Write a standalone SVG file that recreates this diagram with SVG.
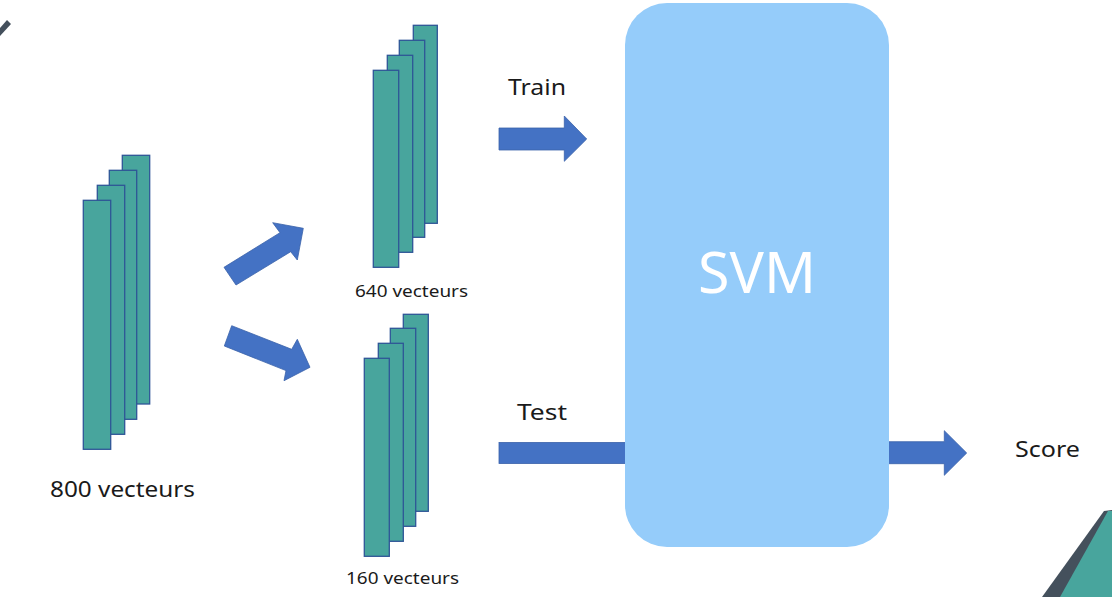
<svg xmlns="http://www.w3.org/2000/svg" width="1112" height="597" viewBox="0 0 1112 597">
<style>
.bar{fill:#48A59D;stroke:#2F5597;stroke-width:1.3}
.arr{fill:#4472C4;stroke:#3A62AA;stroke-width:0.8}
.t{font-family:"Noto Sans","DejaVu Sans",sans-serif;fill:#1a1a1a}
</style>
<rect width="1112" height="597" fill="#ffffff"/>
<g id="decor">
<polygon points="0,28 7,20 11,24 0,36" fill="#44505C"/>
<polygon points="1104,511 1112,510 1112,597 1042,597" fill="#44505C"/>
<polygon points="1108,511 1112,511 1112,597 1060,597" fill="#48A59D"/>
</g>
<g id="stack800">
<rect class="bar" x="122.3" y="155.3" width="27.4" height="248.7"/>
<rect class="bar" x="109.3" y="170.3" width="27.4" height="249"/>
<rect class="bar" x="97.3" y="185.3" width="27.4" height="249"/>
<rect class="bar" x="83.3" y="200.3" width="27.4" height="249"/>
<text class="t" x="50" y="497" font-size="22" textLength="145" lengthAdjust="spacingAndGlyphs">800 vecteurs</text>
</g>
<g id="stack640">
<rect class="bar" x="413.3" y="25.3" width="24" height="198"/>
<rect class="bar" x="399.3" y="40.3" width="25.4" height="197"/>
<rect class="bar" x="387.3" y="55.3" width="25.4" height="197"/>
<rect class="bar" x="373.3" y="70.3" width="25.4" height="197"/>
<text class="t" x="355" y="297" font-size="16.5" textLength="113" lengthAdjust="spacingAndGlyphs">640 vecteurs</text>
</g>
<g id="stack160">
<rect class="bar" x="403.3" y="314.3" width="25" height="197"/>
<rect class="bar" x="390.3" y="328.3" width="25.4" height="198"/>
<rect class="bar" x="378.3" y="343.3" width="25" height="198"/>
<rect class="bar" x="364.3" y="358.3" width="25" height="198"/>
<text class="t" x="346" y="584" font-size="16.5" textLength="113" lengthAdjust="spacingAndGlyphs">160 vecteurs</text>
</g>
<g id="connectors">
<polygon class="arr" points="224,267.3 280,232.7 272.7,222.7 303.3,228.3 297.3,260 290.7,251.7 236,285"/>
<polygon class="arr" points="231.7,325.7 291.7,349.3 297.3,339.3 310,367.3 284,380.7 286,370.6 224.3,346"/>
<polygon class="arr" points="499,128 564.3,128 564.3,116 586.7,139 564.3,161.3 564.3,150 499,150"/>
<rect class="arr" x="499" y="442.5" width="140" height="21"/>
<polygon class="arr" points="870,441.7 944.3,441.7 944.3,430.7 966.7,453 944.3,475.3 944.3,463.7 870,463.7"/>
</g>
<g id="svm">
<rect x="625" y="3" width="264" height="544" rx="42" fill="#95CCFA"/>
<text x="698" y="293" font-family="'Noto Sans','DejaVu Sans',sans-serif" font-size="56" fill="#ffffff" textLength="118" lengthAdjust="spacingAndGlyphs">SVM</text>
</g>
<g id="labels">
<text class="t" x="508" y="95" font-size="22" textLength="58" lengthAdjust="spacingAndGlyphs">Train</text>
<text class="t" x="517" y="420" font-size="22" textLength="50" lengthAdjust="spacingAndGlyphs">Test</text>
<text class="t" x="1015" y="457" font-size="22" textLength="65" lengthAdjust="spacingAndGlyphs">Score</text>
</g>
</svg>
